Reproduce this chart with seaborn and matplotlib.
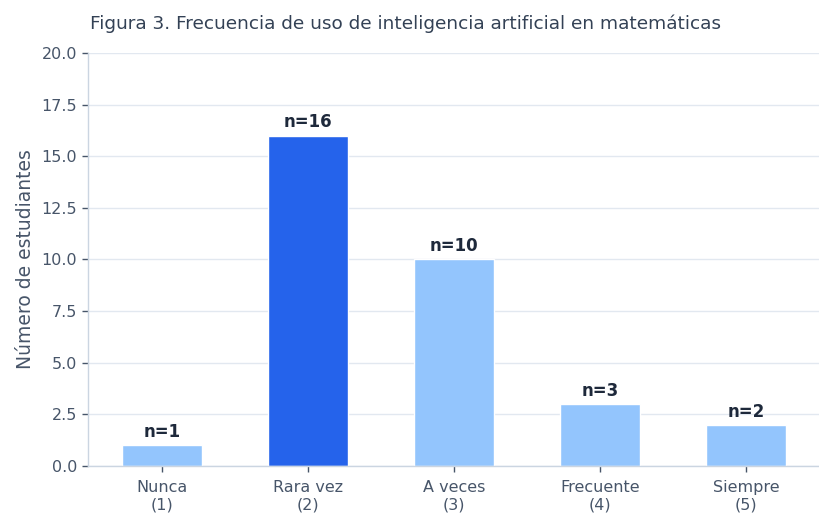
import matplotlib
matplotlib.use('Agg')
import matplotlib.pyplot as plt
import seaborn as sns
import pandas as pd

CATEGORIES = ['Nunca\n(1)', 'Rara vez\n(2)', 'A veces\n(3)', 'Frecuente\n(4)', 'Siempre\n(5)']
COUNTS = [1, 16, 10, 3, 2]
COLORS = ['#93c5fd', '#2563eb', '#93c5fd', '#93c5fd', '#93c5fd']
YTICKS = [0, 2.5, 5, 7.5, 10, 12.5, 15, 17.5, 20]

sns.set_style('whitegrid')
plt.rcParams['font.family'] = ['DejaVu Sans']

df = pd.DataFrame({'Categoria': CATEGORIES, 'Estudiantes': COUNTS})

fig, ax = plt.subplots(figsize=(8.19, 5.2), dpi=100)
fig.subplots_adjust(left=0.107, right=1.0, top=0.898, bottom=0.104)

sns.barplot(data=df, x='Categoria', y='Estudiantes', hue='Categoria',
            palette=COLORS, legend=False, width=0.55, ax=ax, saturation=1)

for i, v in enumerate(COUNTS):
    ax.text(i, v + 0.2, f'n={v}', ha='center', va='bottom',
            fontsize=12, fontweight='bold', color='#1e293b')

ax.set_ylim(0, 20)
ax.set_xlim(-0.51, 4.5)
ax.set_yticks(YTICKS)
ax.set_yticklabels([f'{t:.1f}' for t in YTICKS])
ax.set_xlabel('')
ax.set_ylabel('Número de estudiantes', fontsize=13.5, color='#475569', labelpad=5)
ax.tick_params(axis='y', labelsize=11.5, labelcolor='#475569', color='#475569',
               length=4, width=1, left=True)
ax.tick_params(axis='x', labelsize=11.5, labelcolor='#475569', color='#475569',
               length=4, width=1, bottom=True, pad=6)
ax.grid(axis='x', visible=False)
ax.grid(axis='y', color='#e2e8f0', linewidth=1)
ax.set_axisbelow(True)
for s in ['top', 'right']:
    ax.spines[s].set_visible(False)
for s in ['left', 'bottom']:
    ax.spines[s].set_color('#cbd5e1')
    ax.spines[s].set_linewidth(1)

fig.text(0.11, 0.955, 'Figura 3. Frecuencia de uso de inteligencia artificial en matemáticas',
         fontsize=13.3, color='#334155', ha='left', va='center')

fig.savefig('out.png', dpi=100)
